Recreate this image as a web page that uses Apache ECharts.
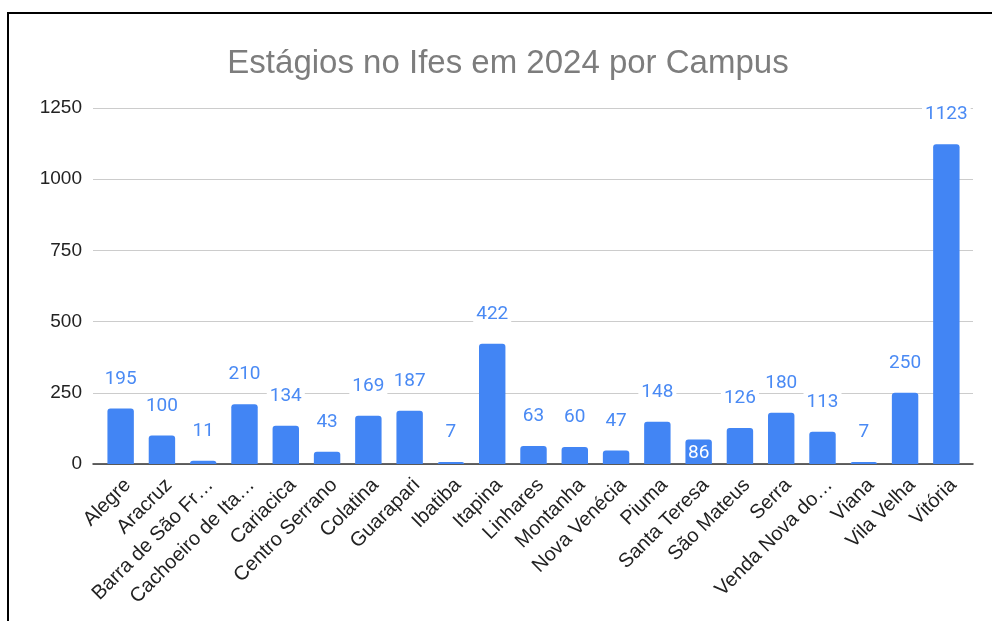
<!DOCTYPE html>
<html>
<head>
<meta charset="utf-8">
<script src="https://cdn.jsdelivr.net/npm/echarts@6/dist/echarts.min.js"></script>
<style>
  html, body { margin: 0; padding: 0; background: #fff; }
  #chart { width: 992px; height: 621px; }
</style>
</head>
<body>
<div id="chart"></div>
<script>
var campus = ['Alegre', 'Aracruz', 'Barra de São Fr…', 'Cachoeiro de Ita…', 'Cariacica',
  'Centro Serrano', 'Colatina', 'Guarapari', 'Ibatiba', 'Itapina', 'Linhares', 'Montanha',
  'Nova Venécia', 'Piuma', 'Santa Teresa', 'São Mateus', 'Serra', 'Venda Nova do…',
  'Viana', 'Vila Velha', 'Vitória'];
var estagios = [195, 100, 11, 210, 134, 43, 169, 187, 7, 422, 63, 60, 47, 148, 86, 126, 180, 113, 7, 250, 1123];
var yTicks = [0, 250, 500, 750, 1000, 1250];

(function() {
  var myChart = echarts.init(document.getElementById('chart'));

  // label that sits inside the bar in the original
  var insideLabel = ['Santa Teresa'];

  var data = estagios.map(function(v, i) {
    var item = { value: v };
    if (insideLabel.indexOf(campus[i]) >= 0) {
      item.label = {
        position: 'insideTop',
        distance: 4,
        color: '#fff',
        backgroundColor: 'transparent'
      };
    }
    return item;
  });

  var yMin = yTicks[0], yMax = yTicks[yTicks.length - 1];
  var font = 'Liberation Sans, Arial, sans-serif';

  var option = {
    animation: false,
    title: {
      text: 'Estágios no Ifes em 2024 por Campus',
      left: 503,
      top: 42,
      textAlign: 'center',
      textStyle: {
        fontFamily: font,
        fontSize: 33,
        fontWeight: 'normal',
        color: '#7d7d7d'
      }
    },
    graphic: [{
      type: 'rect',
      shape: { x: 8, y: 13, width: 1100, height: 700 },
      style: { fill: 'none', stroke: '#000', lineWidth: 2 },
      silent: true
    }],
    // grid 0: gridlines + y labels + baseline, grid 1: the bars (inset a little)
    grid: [
      { left: 93, right: 19, top: 108, bottom: 157 },
      { left: 100, right: 25, top: 108, bottom: 157 }
    ],
    xAxis: [{
      gridIndex: 0,
      type: 'value',
      min: 0,
      max: 1,
      axisLine: { show: true, onZero: false, lineStyle: { color: '#333', width: 1.5 } },
      axisTick: { show: false },
      axisLabel: { show: false },
      splitLine: { show: false }
    }, {
      gridIndex: 1,
      type: 'category',
      data: campus,
      axisLine: { show: false },
      axisTick: { show: false },
      axisLabel: {
        rotate: 45,
        interval: 0,
        margin: 11,
        verticalAlign: 'top',
        fontFamily: font,
        fontSize: 20,
        color: '#222'
      }
    }],
    yAxis: [{
      gridIndex: 0,
      type: 'value',
      min: yMin,
      max: yMax,
      interval: 250,
      axisLine: { show: false },
      axisTick: { show: false },
      splitLine: { lineStyle: { color: '#cccccc' } },
      axisLabel: {
        margin: 11,
        fontFamily: font,
        fontSize: 19,
        color: '#222',
        formatter: function(v) { return String(v); }
      }
    }, {
      gridIndex: 1,
      type: 'value',
      min: yMin,
      max: yMax,
      interval: 250,
      show: false,
      splitLine: { show: false }
    }],
    series: [{
      name: 'Estágios',
      type: 'bar',
      xAxisIndex: 1,
      yAxisIndex: 1,
      barWidth: '64%',
      itemStyle: { color: '#4285f4', borderRadius: [3, 3, 0, 0] },
      label: {
        show: true,
        position: 'top',
        distance: 20,
        fontFamily: 'Roboto, sans-serif',
        fontSize: 19,
        color: '#4a8af4',
        backgroundColor: '#fff',
        padding: [0, 3]
      },
      data: data
    }]
  };

  myChart.setOption(option);
})();
</script>
</body>
</html>
